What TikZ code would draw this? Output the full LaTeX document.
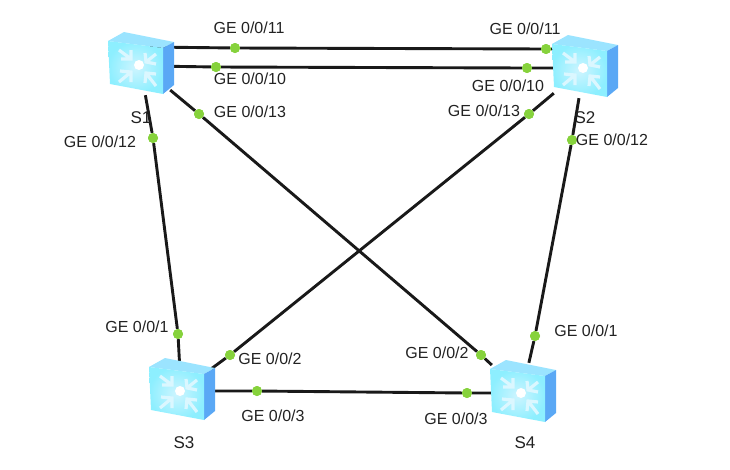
\documentclass[tikz,border=0pt]{standalone}
\usepackage{fontspec}
\setmainfont{Liberation Sans}
\definecolor{portgreen}{HTML}{86D23C}
\definecolor{faceblue}{HTML}{A6ECFF}
\definecolor{topblue}{HTML}{9BE4FF}
\definecolor{sideblue}{HTML}{5AA8F5}
\definecolor{labelgray}{HTML}{222222}
\tikzset{
  link/.style={line width=2.9pt, black!90},
  port/.style={circle, fill=portgreen, inner sep=0pt, minimum size=10pt},
  portlabel/.style={inner sep=0pt, text=labelgray, font=\fontsize{16}{18}\selectfont},
  swlabel/.style={inner sep=0pt, text=labelgray, font=\fontsize{17}{18}\selectfont},
  swnode/.style={inner sep=0pt, minimum width=60pt, minimum height=60pt},
  chevron/.style={white!60!faceblue, line width=3.2pt, line join=miter},
  switchicon/.pic={
    \fill[topblue] (-32,-24) -- (-16,-33) -- (34,-23) -- (23,-17) -- cycle;
    \fill[sideblue] (23,-17) -- (34,-23) -- (34,20) -- (23,29) -- cycle;
    \shade[inner color=faceblue!55!white, outer color=faceblue!85!cyan]
      (-32,-24) -- (23,-17) -- (23,29) -- (-30,19) -- cycle;
    \fill[white] (-1,0) circle (5);
    \draw[chevron] (-21,-15) -- (-9,-6) (-9,-15) -- (-9,-6) -- (-19,-6);
    \draw[chevron] (16,-11) -- (6,-3) (5,-12) -- (6,-3) -- (16,-1);
    \draw[chevron] (-21,17) -- (-9,7) (-20,6) -- (-9,7) -- (-9,17);
    \draw[chevron] (16,21) -- (6,8) (5,18) -- (6,8) -- (16,9);
  }
}
\begin{document}
\begin{tikzpicture}[x=1pt,y=-1pt]
\useasboundingbox (0,0) rectangle (730,469);

%% Switches
\node [swnode] (s1) at (140,65) {};
\node [swnode] (s2) at (584,68) {};
\node [swnode] (s3) at (181,391) {};
\node [swnode] (s4) at (522,393) {};

%% Ends of the two parallel links
\coordinate (s1up) at (150,47);
\coordinate (s1low) at (150,66);
\coordinate (s2up) at (570,49);
\coordinate (s2low) at (570,68);

%% Ports
\node [port] (d1a) at (235,48) {};
\node [port] (d1b) at (216,67) {};
\node [port] (d1c) at (199,114) {};
\node [port] (d1d) at (153,138) {};
\node [port] (d2a) at (546,49) {};
\node [port] (d2b) at (527,68) {};
\node [port] (d2c) at (529,114) {};
\node [port] (d2d) at (572,140) {};
\node [port] (d3a) at (178,334) {};
\node [port] (d3b) at (230,355) {};
\node [port] (d3c) at (257,391) {};
\node [port] (d4a) at (535,336) {};
\node [port] (d4b) at (481,355) {};
\node [port] (d4c) at (467,393) {};

%% Links
\draw [link] (s1up) -- (d1a) -- (d2a) -- (s2up);
\draw [link] (s1low) -- (d1b) -- (d2b) -- (s2low);
\draw [link] (s1) -- (d1c) -- (d4b) -- (s4);
\draw [link] (s1) -- (d1d) -- (d3a) -- (s3);
\draw [link] (s2) -- (d2c) -- (d3b) -- (s3);
\draw [link] (s2) -- (d2d) -- (d4a) -- (s4);
\draw [link] (s3) -- (d3c) -- (d4c) -- (s4);

%% Dots again on top of the links
\foreach \d in {d1a,d1b,d1c,d1d,d2a,d2b,d2c,d2d,d3a,d3b,d3c,d4a,d4b,d4c}
  \fill [portgreen] (\d) circle (5);

%% Icons
\pic at (s1) {switchicon};
\pic at (s2) {switchicon};
\pic at (s3) {switchicon};
\pic at (s4) {switchicon};

%% Switch names
\node [swlabel] (n1) at (141,118) {S1};
\node [swlabel] (n2) at (585,118) {S2};
\node [swlabel] (n3) at (184,443) {S3};
\node [swlabel] (n4) at (525,443) {S4};

%% Port names
\node [portlabel] (l1a) at (249,28) {GE 0/0/11};
\node [portlabel] (l1b) at (250,79) {GE 0/0/10};
\node [portlabel] (l1c) at (250,112) {GE 0/0/13};
\node [portlabel] (l1d) at (100,142) {GE 0/0/12};
\node [portlabel] (l2a) at (525,29) {GE 0/0/11};
\node [portlabel] (l2b) at (508,86) {GE 0/0/10};
\node [portlabel] (l2c) at (484,111) {GE 0/0/13};
\node [portlabel] (l2d) at (612,140) {GE 0/0/12};
\node [portlabel] (l3a) at (137,327) {GE 0/0/1};
\node [portlabel] (l3b) at (270,359) {GE 0/0/2};
\node [portlabel] (l3c) at (273,416) {GE 0/0/3};
\node [portlabel] (l4a) at (586,331) {GE 0/0/1};
\node [portlabel] (l4b) at (437,353) {GE 0/0/2};
\node [portlabel] (l4c) at (456,419) {GE 0/0/3};

\end{tikzpicture}
\end{document}
